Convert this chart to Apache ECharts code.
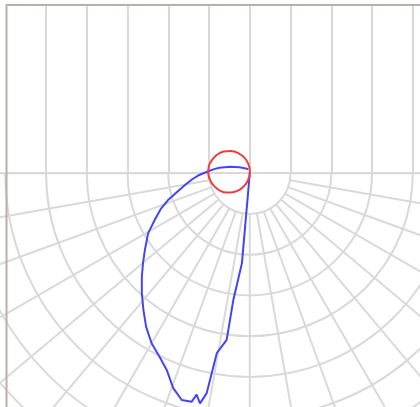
<!DOCTYPE html>
<html><head><meta charset="utf-8">
<script src="https://cdn.jsdelivr.net/npm/echarts@6/dist/echarts.min.js"></script>
<style>html,body{margin:0;padding:0;background:#fff}#c{width:420px;height:407px}</style>
</head><body><div id="c"></div>
<script>
// gamma angle (deg, from nadir towards the left) and intensity (ring = 100)
const blueAngle = [0, 5, 7.4, 7.9, 10.4, 11.1, 12.2, 13.5, 14.3, 16.7, 19.6, 22.9, 26, 30, 34, 37.9, 42, 46.2, 50, 53.8, 59.4, 64, 68, 72, 76, 80, 84, 88, 92, 96, 100, 108, 120, 140, 159];
const blueValue = [0, 222, 314, 413, 449, 550, 578, 559, 579, 581, 560, 524, 503, 482, 455, 425, 396, 367, 342, 319, 290, 259, 236, 210, 182, 160, 142, 124, 105, 90, 76, 51, 29, 15, 10];
const redAngle = [0, 10, 20, 30, 40, 50, 60, 70, 80, 90, 100, 110, 120, 130, 140, 150, 160, 170, 180, 190];
const redValue = [0, 11, 28, 45, 60, 74, 85, 93, 99, 102, 102, 98, 92, 83, 71, 57, 42, 25, 7, 0];
const ringValues = [1, 2, 3, 4, 5, 6, 7, 8, 9];
const gridStep = 10; // degrees between radial grid lines

const CX = 249.8, CY = 173.2, RING = 40.75, W = 420;
const GRID_COLOR = '#d9d9d9';
const gridLeft = CX - 6 * RING;
const nRings = ringValues[ringValues.length - 1];

const chart = echarts.init(document.getElementById('c'), null, {renderer: 'canvas'});
chart.setOption({
  animation: false,
  backgroundColor: '#fff',
  grid: {left: gridLeft, top: 5, right: 0, height: CY - 5},
  xAxis: {
    type: 'value', min: -6, max: -6 + (W - gridLeft) / RING, interval: 1,
    axisLine: {show: true, onZero: false, lineStyle: {color: GRID_COLOR, width: 2}},
    axisTick: {show: false}, axisLabel: {show: false},
    splitLine: {show: true, showMinLine: false, showMaxLine: false, lineStyle: {color: GRID_COLOR, width: 2}}
  },
  yAxis: {type: 'value', min: 0, max: 1, show: false},
  polar: [
    {center: [CX, CY], radius: 6 * RING},
    {center: [CX, CY], radius: [RING, nRings * RING]}
  ],
  radiusAxis: [
    {polarIndex: 0, type: 'value', min: 0, max: 600, show: false},
    {polarIndex: 1, type: 'value', min: ringValues[0], max: nRings, interval: 1,
     axisLine: {show: false}, axisTick: {show: false}, axisLabel: {show: false},
     splitLine: {show: true, lineStyle: {color: GRID_COLOR, width: 2}}}
  ],
  angleAxis: [
    {polarIndex: 0, type: 'value', min: 0, max: 360, startAngle: 270, clockwise: true, show: false},
    {polarIndex: 1, type: 'value', min: 0, max: 180, interval: gridStep, startAngle: 180, endAngle: 360, clockwise: false,
     axisLine: {show: false}, axisTick: {show: false}, axisLabel: {show: false},
     splitLine: {show: true, lineStyle: {color: GRID_COLOR, width: 2}}}
  ],
  graphic: [{
    type: 'rect', z: 100, silent: true,
    shape: {x: 6.5, y: 5, width: 600, height: 600},
    style: {fill: 'none', stroke: '#b9afab', lineWidth: 2}
  }],
  series: [
    {type: 'line', coordinateSystem: 'polar', polarIndex: 0, showSymbol: false, z: 3,
     lineStyle: {color: '#4545f5', width: 2},
     data: blueAngle.map((a, i) => [blueValue[i], a])},
    {type: 'line', coordinateSystem: 'polar', polarIndex: 0, showSymbol: false, z: 4, smooth: 0.4,
     lineStyle: {color: '#f23b3b', width: 2},
     data: redAngle.map((a, i) => [redValue[i], a])}
  ]
});
</script></body></html>
